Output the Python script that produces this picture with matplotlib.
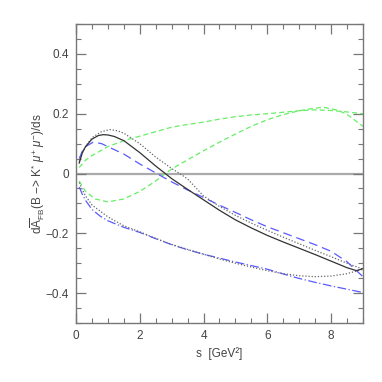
import matplotlib
matplotlib.use("Agg")
import matplotlib.pyplot as plt
from matplotlib.ticker import MultipleLocator, FuncFormatter

plt.rcParams['font.family'] = ['Liberation Sans', 'DejaVu Sans']
plt.rcParams['mathtext.fontset'] = 'custom'
plt.rcParams['mathtext.rm'] = 'Liberation Sans'
plt.rcParams['mathtext.it'] = 'Liberation Sans:italic'

# values
s_solid = [0.1, 0.2, 0.3, 0.5, 0.7, 0.85, 1.0, 1.2, 1.5, 2.0, 2.5, 2.8, 3.0, 3.5, 4.0, 4.5, 5.0, 5.5, 6.0, 6.5, 7.0, 7.5, 8.0, 8.5, 8.8, 9.0]
y_solid = [0.035, 0.07, 0.09, 0.115, 0.127, 0.13, 0.129, 0.124, 0.11, 0.07, 0.025, 0.0, -0.017, -0.053, -0.088, -0.123, -0.155, -0.182, -0.207, -0.229, -0.25, -0.271, -0.293, -0.315, -0.325, -0.318]

s_dot1 = [0.1, 0.2, 0.3, 0.5, 0.8, 1.06, 1.3, 1.5, 2.0, 2.5, 3.0, 3.25, 3.5, 4.0, 4.5, 5.0, 5.5, 6.0, 6.5, 7.0, 7.5, 8.0, 8.5, 9.0]
y_dot1 = [0.04, 0.07, 0.09, 0.12, 0.14, 0.147, 0.143, 0.135, 0.1, 0.055, 0.017, 0.0, -0.018, -0.075, -0.11, -0.14, -0.166, -0.19, -0.213, -0.235, -0.257, -0.278, -0.3, -0.32]

s_dot2 = [0.1, 0.2, 0.3, 0.5, 0.75, 1.0, 1.5, 2.0, 2.5, 3.0, 3.5, 4.0, 4.5, 5.0, 5.5, 6.0, 6.5, 7.0, 7.5, 8.0, 8.5, 9.0]
y_dot2 = [-0.03, -0.055, -0.075, -0.105, -0.125, -0.145, -0.175, -0.195, -0.217, -0.237, -0.254, -0.27, -0.286, -0.3, -0.313, -0.325, -0.335, -0.342, -0.345, -0.343, -0.335, -0.32]

s_blue1 = [0.1, 0.2, 0.3, 0.54, 0.8, 1.0, 1.5, 2.0, 2.5, 3.0, 3.5, 4.0, 4.5, 5.0, 5.5, 6.0, 6.5, 7.0, 7.5, 8.0, 8.5, 9.0]
y_blue1 = [0.05, 0.075, 0.09, 0.105, 0.1, 0.09, 0.065, 0.032, 0.002, -0.028, -0.055, -0.08, -0.106, -0.13, -0.155, -0.178, -0.198, -0.218, -0.238, -0.26, -0.295, -0.345]

s_blue2 = [0.1, 0.2, 0.3, 0.5, 0.75, 1.0, 1.5, 2.0, 2.5, 3.0, 3.5, 4.0, 4.5, 5.0, 5.5, 6.0, 6.5, 7.0, 7.5, 8.0, 8.5, 9.0]
y_blue2 = [-0.045, -0.07, -0.09, -0.12, -0.142, -0.158, -0.18, -0.197, -0.218, -0.238, -0.255, -0.27, -0.283, -0.296, -0.308, -0.32, -0.336, -0.351, -0.364, -0.376, -0.387, -0.398]

s_green1 = [0.1, 0.3, 0.5, 1.0, 1.5, 2.0, 2.5, 3.0, 3.5, 4.0, 4.5, 5.0, 5.5, 6.0, 6.5, 7.0, 7.5, 8.0, 8.5, 9.0]
y_green1 = [0.02, 0.045, 0.06, 0.09, 0.11, 0.125, 0.14, 0.155, 0.164, 0.172, 0.182, 0.19, 0.196, 0.2, 0.205, 0.21, 0.213, 0.211, 0.206, 0.2]

s_green2 = [0.1, 0.3, 0.6, 1.0, 1.5, 2.0, 2.5, 2.8, 3.0, 3.5, 4.0, 4.5, 5.0, 5.5, 6.0, 6.5, 7.0, 7.5, 7.8, 8.2, 8.5, 9.0]
y_green2 = [-0.025, -0.06, -0.085, -0.095, -0.085, -0.06, -0.025, 0.0, 0.015, 0.046, 0.076, 0.105, 0.132, 0.158, 0.18, 0.197, 0.21, 0.219, 0.221, 0.212, 0.198, 0.158]

blue = "#5a5aff"
green = "#66ee66"

fig = plt.figure(figsize=(3.82, 3.82), dpi=100)
ax = fig.add_axes([0.199, 0.1545, 0.751, 0.7825])

ax.axhline(0, color="#aaaaaa", lw=1.6, zorder=1)
ax.plot(s_green1, y_green1, color=green, lw=0.9, dashes=(4, 2.5))
ax.plot(s_green2, y_green2, color=green, lw=0.9, dashes=(4, 2.5))
ax.plot(s_blue1, y_blue1, color=blue, lw=0.9, dashes=(7, 4))
ax.plot(s_blue2, y_blue2, color=blue, lw=0.9, dashes=(7, 2, 1, 2))
ax.plot(s_dot1, y_dot1, color="#666666", lw=0.9, dashes=(1, 1.5))
ax.plot(s_dot2, y_dot2, color="#666666", lw=0.9, dashes=(1, 1.5))
ax.plot(s_solid, y_solid, color="#333333", lw=0.9)

ax.set_xlim(0, 9)
ax.set_ylim(-0.5, 0.5)
ax.xaxis.set_major_locator(MultipleLocator(2))
ax.xaxis.set_minor_locator(MultipleLocator(0.5))
ax.yaxis.set_major_locator(MultipleLocator(0.2))
ax.yaxis.set_minor_locator(MultipleLocator(0.05))
ax.xaxis.set_major_formatter(FuncFormatter(lambda v, p: "%g" % v))
ax.yaxis.set_major_formatter(FuncFormatter(lambda v, p: ("%g" % v).replace("-", "\u2212")))

ax.tick_params(which="both", direction="in", top=True, right=True, colors="#777777",
               labelcolor="#444444", labelsize=8.5)
ax.tick_params(which="major", length=7, width=0.9, pad=5)
ax.tick_params(which="minor", length=3.5, width=0.8)
for sp in ax.spines.values():
    sp.set_color("#777777")
    sp.set_linewidth(1.0)

ax.set_xlabel("s  [GeV\u00b2]", fontsize=8.5, color="#444444", labelpad=4)
ax.set_ylabel(r"d$\overline{\mathrm{A}}_{\mathrm{FB}}$(B $-$> K$^{*}$ $\mu^{+}$ $\mu^{-}$)/ds",
              fontsize=8.5, color="#444444", labelpad=-1)

fig.savefig("out.png", dpi=100)
